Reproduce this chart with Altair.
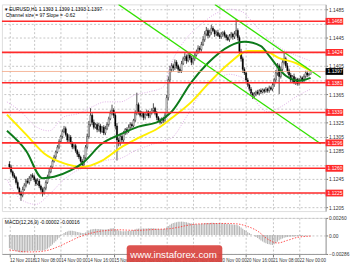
import json
import altair as alt
import pandas as pd

# ---------------- data ----------------
closes = [
    1.1262, 1.1255, 1.1250, 1.1247, 1.1240, 1.1232, 1.1225, 1.1222, 1.1230, 1.1236,
    1.1242, 1.1240, 1.1246, 1.1250, 1.1248, 1.1244, 1.1238, 1.1242, 1.1235, 1.1230,
    1.1225, 1.1232, 1.1240, 1.1248, 1.1255, 1.1262, 1.1270, 1.1276, 1.1283, 1.1290,
    1.1298, 1.1305, 1.1312, 1.1316, 1.1308, 1.1300, 1.1304, 1.1296, 1.1290, 1.1292,
    1.1285, 1.1280, 1.1276, 1.1270, 1.1265, 1.1275, 1.1290, 1.1305, 1.1322, 1.1335,
    1.1325, 1.1318, 1.1322, 1.1315, 1.1320, 1.1312, 1.1318, 1.1310, 1.1316, 1.1322,
    1.1330, 1.1338, 1.1342, 1.1335, 1.1320, 1.1300, 1.1295, 1.1305, 1.1300, 1.1310,
    1.1315, 1.1312, 1.1318, 1.1322, 1.1320, 1.1328, 1.1338, 1.1350, 1.1340, 1.1335,
    1.1338, 1.1332, 1.1336, 1.1340, 1.1334, 1.1338, 1.1342, 1.1345, 1.1338, 1.1332,
    1.1328, 1.1325, 1.1330, 1.1328, 1.1335, 1.1360, 1.1385, 1.1400, 1.1405, 1.1402,
    1.1410, 1.1405, 1.1400, 1.1398, 1.1408, 1.1415, 1.1418, 1.1412, 1.1420, 1.1416,
    1.1410, 1.1415, 1.1420, 1.1425, 1.1430, 1.1428, 1.1435, 1.1442, 1.1450, 1.1455,
    1.1448, 1.1452, 1.1458, 1.1455, 1.1450, 1.1452, 1.1448, 1.1446, 1.1450, 1.1452,
    1.1448, 1.1445, 1.1442, 1.1447, 1.1450, 1.1446, 1.1450, 1.1455, 1.1445, 1.1425,
    1.1415, 1.1400, 1.1395, 1.1385, 1.1378, 1.1372, 1.1366, 1.1362, 1.1365, 1.1368,
    1.1366, 1.1370, 1.1368, 1.1371, 1.1369, 1.1372, 1.1370, 1.1374, 1.1372, 1.1378,
    1.1385, 1.1395, 1.1405, 1.1390, 1.1400, 1.1410, 1.1415, 1.1405, 1.1398, 1.1392,
    1.1385, 1.1390, 1.1382, 1.1386, 1.1380, 1.1385, 1.1388, 1.1384, 1.1390, 1.1395,
    1.1392, 1.1393, 1.1397,
]
first_open = 1.1266
wick_up = [
    4, 3, 2, 3, 2, 3, 2, 3, 4, 3, 3, 4, 3, 2, 3, 3, 2, 4, 3, 2,
    3, 2, 3, 3, 4, 2, 3, 3, 2, 3, 3, 2, 3, 4, 3, 2, 4, 3, 2, 3,
    3, 2, 3, 2, 3, 4, 3, 4, 5, 10, 3, 4, 2, 3, 4, 3, 2, 3, 4, 3,
    3, 4, 8, 3, 3, 4, 3, 4, 3, 3, 2, 3, 4, 3, 3, 2, 4, 17, 3, 2,
    3, 2, 4, 3, 2, 3, 3, 7, 2, 3, 2, 3, 2, 3, 4, 4, 5, 5, 4, 3,
    4, 3, 2, 3, 4, 3, 5, 3, 4, 3, 3, 4, 3, 3, 4, 3, 4, 5, 4, 5,
    3, 4, 5, 3, 2, 3, 4, 3, 3, 2, 3, 2, 4, 3, 3, 2, 4, 16, 3, 3,
    4, 3, 3, 2, 3, 2, 3, 2, 3, 2, 3, 2, 3, 2, 2, 3, 2, 3, 2, 4,
    3, 4, 4, 3, 4, 3, 10, 3, 4, 3, 3, 2, 4, 3, 2, 3, 3, 2, 3, 3,
    3, 2, 2,
]
wick_down = [
    3, 2, 3, 2, 3, 2, 3, 8, 3, 2, 3, 2, 3, 4, 2, 3, 3, 2, 3, 3,
    5, 2, 3, 2, 3, 2, 3, 2, 3, 2, 3, 2, 3, 2, 3, 4, 3, 2, 3, 3,
    3, 4, 3, 2, 5, 3, 2, 3, 3, 3, 4, 3, 2, 4, 3, 3, 2, 3, 3, 2,
    3, 2, 3, 4, 5, 29, 4, 3, 4, 3, 3, 4, 2, 3, 3, 2, 3, 3, 4, 3,
    3, 4, 3, 2, 3, 3, 2, 3, 3, 4, 3, 3, 2, 4, 3, 3, 4, 3, 4, 5,
    3, 4, 5, 3, 3, 2, 3, 4, 2, 3, 4, 3, 3, 2, 3, 4, 3, 2, 3, 3,
    4, 3, 3, 2, 4, 3, 2, 3, 3, 4, 3, 4, 2, 3, 3, 4, 3, 3, 4, 5,
    4, 5, 3, 4, 3, 3, 2, 4, 3, 3, 2, 3, 3, 2, 3, 2, 3, 3, 2, 3,
    3, 3, 4, 25, 3, 4, 3, 3, 4, 3, 4, 3, 3, 4, 3, 3, 2, 3, 3, 3,
    3, 2, 0,
]

# MACD histogram, in units of 0.00001
macd_hist = [
    -200, -210, -222, -232, -242, -250, -258, -264, -262, -258,
    -252, -248, -242, -238, -236, -235, -236, -234, -235, -236,
    -236, -230, -220, -205, -187, -166, -142, -117, -92, -66,
    -40, -14, 10, 32, 46, 56, 64, 66, 64, 60,
    54, 48, 42, 36, 30, 32, 40, 52, 68, 84,
    90, 92, 94, 92, 92, 90, 88, 86, 86, 88,
    92, 98, 104, 102, 92, 78, 68, 62, 58, 58,
    58, 60, 62, 66, 70, 76, 84, 94, 98, 100,
    100, 100, 100, 101, 102, 103, 104, 102, 100, 97,
    94, 92, 90, 92, 100, 116, 136, 156, 172, 182,
    190, 196, 200, 202, 204, 202, 198, 194, 188, 182,
    176, 170, 166, 164, 164, 166, 170, 174, 178, 182,
    182, 184, 186, 186, 184, 182, 180, 178, 178, 178,
    176, 172, 168, 166, 164, 160, 158, 156, 150, 134,
    116, 96, 78, 60, 44, 30, 16, 2, -10, -28,
    -46, -64, -82, -98, -112, -124, -134, -140, -148, -150,
    -140, -120, -100, -80, -62, -50, -40, -34, -30, -26,
    -24, -22, -20, -18, -16, -14, -12, -10, -8, -6,
    -4, -3, -2,
]
sig_idx = [0, 6, 12, 18, 24, 30, 36, 42, 48, 54, 60, 66, 72, 78, 84, 90, 96,
           102, 108, 114, 120, 126, 132, 138, 144, 150, 156, 162, 168, 174, 182]
sig_val = [-225, -245, -255, -250, -225, -170, -100, -30, 20, 55, 72, 80, 74, 72, 80, 88, 94,
           118, 150, 168, 172, 175, 176, 168, 130, 60, -60, -120, -80, -35, -16]

yellow_idx = [-1.5, 10, 21, 33, 44, 56, 67, 78, 90, 98, 110, 121, 133, 144, 154, 163, 173, 182]
yellow_val = [1.1336, 1.1308, 1.1281, 1.1267, 1.1262, 1.1271, 1.1289, 1.1303, 1.1317,
              1.1331, 1.1354, 1.1382, 1.1409, 1.1426, 1.1426, 1.1416, 1.1409, 1.1398]
green_idx = [-1.5, 10, 20, 27, 37, 44, 56, 67, 78, 90, 98, 110, 120, 133, 142, 152, 157, 167, 175, 182]
green_val = [1.1313, 1.1285, 1.1246, 1.1248, 1.1257, 1.1267, 1.1295, 1.1308, 1.1319, 1.1326,
             1.1340, 1.1382, 1.1409, 1.1433, 1.1439, 1.1433, 1.1419, 1.1391, 1.1384, 1.1388]
bb_idx = [-1.5, 7, 16, 24, 33, 41, 50, 58, 67, 76, 84, 93, 98, 107, 116, 124, 133, 139, 141,
          148, 156, 164, 173, 182]
bb_upper = [1.1354, 1.1340, 1.1319, 1.1313, 1.1333, 1.1337, 1.1347, 1.1354, 1.1354, 1.1364,
            1.1368, 1.1375, 1.1409, 1.1444, 1.1464, 1.1478, 1.1485, 1.1483, 1.1481,
            1.1464, 1.1444, 1.1430, 1.1420, 1.1412]
bb_lower = [1.1244, 1.1216, 1.1209, 1.1223, 1.1244, 1.1257, 1.1264, 1.1271, 1.1274, 1.1285,
            1.1292, 1.1299, 1.1303, 1.1333, 1.1368, 1.1384, 1.1393, 1.1390, 1.1388,
            1.1358, 1.1340, 1.1347, 1.1361, 1.1372]

chan_lower_idx = [65.9, 188.1]
chan_lower_val = [1.14919, 1.12947]
chan_upper_idx = [124.1, 188.1]
chan_upper_val = [1.14919, 1.13884]

levels = [1.1468, 1.1424, 1.1381, 1.1339, 1.1296, 1.1260, 1.1225]
bid = 1.1397
price_ticks = [1.1205, 1.1225, 1.1245, 1.1265, 1.1285, 1.1305, 1.1325, 1.1345,
               1.1365, 1.1385, 1.1405, 1.1425, 1.1445, 1.1465, 1.1485]
time_ticks = [0, 15, 31, 47, 63, 79, 95, 111, 127, 143, 159, 175]
time_labels = ["12 Nov 2018", "13 Nov 08:00", "14 Nov 00:00", "14 Nov 16:00",
               "15 Nov 08:00", "16 Nov 00:00", "16 Nov 16:00", "19 Nov 08:00",
               "20 Nov 00:00", "20 Nov 16:00", "21 Nov 08:00", "22 Nov 00:00"]
macd_ticks = [-0.00286, 0.0, 0.0026]

header1 = "\u25be EURUSD,H1  1.1393 1.1399 1.1393 1.1397"
header2 = "Channel size = 97  Slope = -0.62"
macd_title = "MACD(12,26,9) -0.00002 -0.00016"

# ---------------- tables ----------------
opens = [first_open] + closes[:-1]
candles = pd.DataFrame({
    "i": list(range(len(closes))),
    "o": opens,
    "c": closes,
    "h": [max(o, c) + u * 0.0001 for o, c, u in zip(opens, closes, wick_up)],
    "l": [min(o, c) - d * 0.0001 for o, c, d in zip(opens, closes, wick_down)],
})
macd_df = pd.DataFrame({"i": list(range(len(macd_hist))),
                        "m": [v * 1e-5 for v in macd_hist], "z": 0.0})
sig_df = pd.DataFrame({"i": sig_idx, "m": [v * 1e-5 for v in sig_val]})
yellow_df = pd.DataFrame({"i": yellow_idx, "p": yellow_val})
green_df = pd.DataFrame({"i": green_idx, "p": green_val})
bbu_df = pd.DataFrame({"i": bb_idx, "p": bb_upper})
bbl_df = pd.DataFrame({"i": bb_idx, "p": bb_lower})
chl_df = pd.DataFrame({"i": chan_lower_idx, "p": chan_lower_val})
chu_df = pd.DataFrame({"i": chan_upper_idx, "p": chan_upper_val})
lev_df = pd.DataFrame({"p": levels, "t": [f"{v:.4f}" for v in levels]})
bid_df = pd.DataFrame({"p": [bid], "t": [f"{bid:.4f}"]})

# ---------------- scales / axes ----------------
W, H1, H2 = 332, 212, 37
XD = [-1.571, 188.14]
YD = [1.11995, 1.14919]
MD = [-0.00286, 0.0026]
GRID = "#c4c4c4"
FONT = "Liberation Sans"
label_expr = f"{json.dumps(time_labels)}[indexof({json.dumps(time_ticks)}, datum.value)]"
# price labels hidden behind the coloured level boxes
covered = json.dumps([1.1225, 1.1265, 1.1345, 1.1385, 1.1425, 1.1465])
price_expr = (f"indexof({covered}, round(datum.value * 10000) / 10000) >= 0 ? '' : "
              "format(datum.value, '.4f')")


def xenc(field, labels=False):
    if labels:
        ax = alt.Axis(values=time_ticks, labelExpr=label_expr, labelFontSize=4.6,
                      labelFont=FONT, labelAlign="left", labelFlush=False,
                      labelOverlap=False, labelPadding=1, tickSize=3, tickColor="#777",
                      domainColor="#999", labelColor="#333", grid=True,
                      gridDash=[2, 2], gridColor=GRID, title=None)
    else:
        ax = alt.Axis(values=time_ticks, labels=False, ticks=False, domain=False,
                      grid=True, gridDash=[2, 2], gridColor=GRID, title=None)
    return alt.X(f"{field}:Q", scale=alt.Scale(domain=XD, nice=False, zero=False), axis=ax)


def yenc(field):
    return alt.Y(f"{field}:Q", scale=alt.Scale(domain=YD, nice=False, zero=False),
                 axis=alt.Axis(orient="right", values=price_ticks, labelExpr=price_expr,
                               labelFontSize=5, labelFont=FONT, labelPadding=1, tickSize=2,
                               tickColor="#777", domainColor="#999", labelColor="#333",
                               grid=True, gridDash=[2, 2], gridColor=GRID, title=None))


def menc(field):
    return alt.Y(f"{field}:Q", scale=alt.Scale(domain=MD, nice=False, zero=False),
                 axis=alt.Axis(orient="right", values=macd_ticks,
                               labelExpr="datum.value == 0 ? '0.00' : format(datum.value, '.5f')",
                               labelFontSize=5, labelFont=FONT, labelPadding=1, tickSize=2,
                               tickColor="#777", domainColor="#999", labelColor="#333",
                               grid=True, gridDash=[2, 2], gridColor=GRID, title=None))


# ---------------- main panel ----------------
cbase = alt.Chart(candles)
wicks = cbase.mark_rule(color="black", strokeWidth=0.7).encode(
    x=xenc("i"), y=yenc("l"), y2="h")
bodies = cbase.mark_bar(size=1.3, stroke="black", strokeWidth=0.4).encode(
    x=xenc("i"), y=yenc("o"), y2="c",
    fill=alt.condition("datum.c >= datum.o", alt.value("white"), alt.value("black")))

bb_u = alt.Chart(bbu_df).mark_line(color="#d79be0", strokeWidth=0.8, strokeDash=[1, 1.5],
                                   interpolate="monotone").encode(x=xenc("i"), y=yenc("p"))
bb_l = alt.Chart(bbl_df).mark_line(color="#d79be0", strokeWidth=0.8, strokeDash=[1, 1.5],
                                   interpolate="monotone").encode(x=xenc("i"), y=yenc("p"))
yel = alt.Chart(yellow_df).mark_line(color="#ffee00", strokeWidth=2,
                                     interpolate="monotone").encode(x=xenc("i"), y=yenc("p"))
grn = alt.Chart(green_df).mark_line(color="#0d7a1a", strokeWidth=2,
                                    interpolate="monotone").encode(x=xenc("i"), y=yenc("p"))
ch_l = alt.Chart(chl_df).mark_line(color="#33e000", strokeWidth=1.3, clip=True).encode(
    x=xenc("i"), y=yenc("p"))
ch_u = alt.Chart(chu_df).mark_line(color="#33e000", strokeWidth=1.3, clip=True).encode(
    x=xenc("i"), y=yenc("p"))

lev_rules = alt.Chart(lev_df).mark_rule(color="#ff2a2a", strokeWidth=1.6).encode(y=yenc("p"))
bid_rule = alt.Chart(bid_df).mark_rule(color="#f4a582", strokeWidth=0.8).encode(y=yenc("p"))

lev_box = alt.Chart(lev_df).transform_calculate(
    lo="datum.p - 0.00048", hi="datum.p + 0.00048"
).mark_rect(color="#ff2a2a").encode(
    x=alt.value(W), x2=alt.value(350), y=yenc("lo"), y2="hi")
lev_txt = alt.Chart(lev_df).mark_text(align="left", baseline="middle", fontSize=5,
                                      font=FONT, color="white").encode(
    x=alt.value(W + 2), y=yenc("p"), text="t:N")
bid_box = alt.Chart(bid_df).transform_calculate(
    lo="datum.p - 0.00048", hi="datum.p + 0.00048"
).mark_rect(color="black").encode(
    x=alt.value(W), x2=alt.value(350), y=yenc("lo"), y2="hi")
bid_txt = alt.Chart(bid_df).mark_text(align="left", baseline="middle", fontSize=5,
                                      font=FONT, color="white").encode(
    x=alt.value(W + 2), y=yenc("p"), text="t:N")

head1 = alt.Chart(pd.DataFrame({"t": [header1]})).mark_text(
    align="left", baseline="middle", fontSize=5, font=FONT, color="black").encode(
    x=alt.value(3), y=alt.value(4.5), text="t:N")
head2 = alt.Chart(pd.DataFrame({"t": [header2]})).mark_text(
    align="left", baseline="middle", fontSize=5, font=FONT, color="black").encode(
    x=alt.value(4), y=alt.value(10.5), text="t:N")

main = alt.layer(
    wicks, bodies, bb_u, bb_l, yel, grn, ch_l, ch_u, lev_rules, bid_rule,
    lev_box, lev_txt, bid_box, bid_txt, head1, head2
).properties(width=W, height=H1)

# ---------------- MACD panel ----------------
hist = alt.Chart(macd_df).mark_bar(size=1.1, color="#b4b4b4").encode(
    x=xenc("i", labels=True), y=menc("m"), y2="z")
sig = alt.Chart(sig_df).mark_line(color="#ff3b3b", strokeWidth=0.9, strokeDash=[1.5, 1.5],
                                  interpolate="monotone").encode(
    x=xenc("i", labels=True), y=menc("m"))
mtitle = alt.Chart(pd.DataFrame({"t": [macd_title]})).mark_text(
    align="left", baseline="middle", fontSize=5, font=FONT, color="black").encode(
    x=alt.value(3), y=alt.value(4.5), text="t:N")
wm_box = alt.Chart(pd.DataFrame({"a": [0]})).mark_rect(
    color="#d8403c", opacity=0.9, cornerRadius=3).encode(
    x=alt.value(128), x2=alt.value(226), y=alt.value(28), y2=alt.value(52))
wm_txt = alt.Chart(pd.DataFrame({"t": ["www.instaforex.com"]})).mark_text(
    align="center", baseline="middle", fontSize=10, font=FONT, color="white").encode(
    x=alt.value(176), y=alt.value(38.5), text="t:N")

macd = alt.layer(hist, sig, mtitle, wm_box, wm_txt).properties(width=W, height=H2)

chart = alt.vconcat(main, macd, spacing=3).properties(
    padding=0, background="white"
).configure_view(stroke="#999", strokeWidth=1).configure(font=FONT)

chart.save("out.html", embed_options={"renderer": "svg", "actions": False})
